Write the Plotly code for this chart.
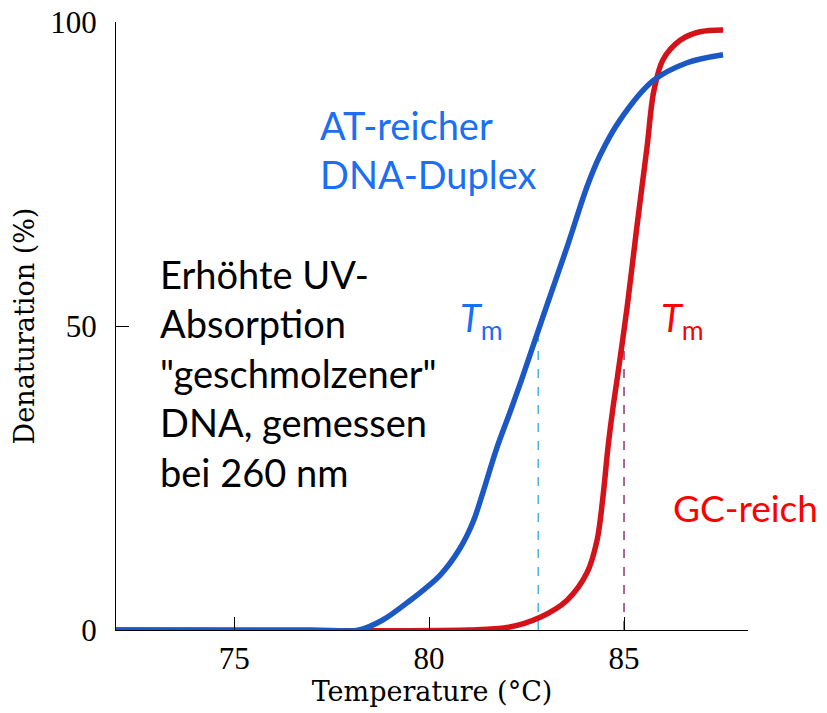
import plotly.graph_objects as go

# AT-rich duplex (blue): temperature (°C) and denaturation (%)
temp_at = [71.97, 77.0, 78.2, 78.8, 79.44, 80.28, 80.79, 81.13, 81.38, 81.74, 82.08, 82.38, 82.92, 83.54, 84.05, 84.38, 84.9, 85.74, 86.62, 87.54]
den_at = [0, 0, 0, 1.6, 4.5, 9.0, 13.4, 17.8, 22.6, 30.0, 35.9, 41.3, 51.5, 63.0, 72.9, 78.0, 83.9, 90.3, 93.3, 94.6]

# GC-rich (red)
temp_gc = [71.97, 81.0, 82.0, 82.85, 83.54, 84.05, 84.31, 84.46, 84.59, 84.72, 84.82, 85.08, 85.33, 85.59, 85.76, 86.0, 86.44, 86.95, 87.54]
den_gc = [0, 0, 0.4, 2.1, 4.9, 9.4, 14.8, 21.9, 30.1, 36.7, 41.1, 53.1, 66.3, 79.4, 88.5, 93.8, 97.0, 98.4, 98.7]

# melting temperatures and heights of their dashed markers
tm_at, tm_at_h = 82.8, 48
tm_gc, tm_gc_h = 85.0, 46

x_ticks = [75, 80, 85, 88.16]
x_tick_text = ["75", "80", "85", ""]
y_ticks = [0, 50, 100]

BLUE_LINE = "#1c58c4"
RED_LINE = "#d3121a"
BLUE_TXT = "#1a6ff5"
RED_TXT = "#ff0000"
SANS = "Lato"
SERIF = "DejaVu Serif"
TICK_SERIF = "Liberation Serif"

fig = go.Figure()

fig.add_trace(go.Scatter(x=[tm_at, tm_at], y=[0, tm_at_h], mode="lines",
                         line=dict(color="#4fb3d9", width=1.5, dash="dash"), showlegend=False))
fig.add_trace(go.Scatter(x=[tm_gc, tm_gc], y=[0, tm_gc_h], mode="lines",
                         line=dict(color="#8a3a6e", width=1.5, dash="dash"), showlegend=False))

fig.add_trace(go.Scatter(x=temp_gc, y=den_gc, mode="lines",
                         line=dict(color=RED_LINE, width=5.5, shape="spline", smoothing=0.9),
                         showlegend=False))
fig.add_trace(go.Scatter(x=temp_at, y=den_at, mode="lines",
                         line=dict(color=BLUE_LINE, width=5.5, shape="spline", smoothing=0.9),
                         showlegend=False))

fig.add_annotation(x=77.15, y=79.0, text="AT-reicher<br>DNA-Duplex", showarrow=False,
                   xanchor="left", yanchor="middle", align="left",
                   font=dict(family=SANS, size=38, color=BLUE_TXT))
fig.add_annotation(x=73.05, y=42.3,
                   text="Erhöhte UV-<br>Absorption<br>\"geschmolzener\"<br>DNA, gemessen<br>bei 260 nm",
                   showarrow=False, xanchor="left", yanchor="middle", align="left",
                   font=dict(family=SANS, size=38, color="black"))
fig.add_annotation(x=86.2, y=20.2, text="GC-reich", showarrow=False,
                   xanchor="left", yanchor="middle", align="left",
                   font=dict(family=SANS, size=37, color=RED_TXT))
fig.add_annotation(x=80.75, y=51.0, text="<i>T</i><sub>m</sub>", showarrow=False,
                   xanchor="left", yanchor="middle",
                   font=dict(family=SANS, size=38, color=BLUE_TXT))
fig.add_annotation(x=85.9, y=51.0, text="<i>T</i><sub>m</sub>", showarrow=False,
                   xanchor="left", yanchor="middle",
                   font=dict(family=SANS, size=38, color=RED_TXT))

fig.update_layout(
    width=827, height=713,
    margin=dict(l=116, r=79, t=22, b=83, autoexpand=False),
    paper_bgcolor="white", plot_bgcolor="white",
    font=dict(family=SERIF, color="black"),
)
fig.update_xaxes(range=[71.97, 88.18], tickvals=x_ticks, ticktext=x_tick_text,
                 ticks="inside", ticklen=13, tickwidth=1.3, tickcolor="black",
                 showline=True, linecolor="black", linewidth=1.3, showgrid=False, zeroline=False,
                 tickfont=dict(family=TICK_SERIF, size=31), ticklabelstandoff=1,
                 ticklabeloverflow="allow", automargin=False,
                 title=dict(text="Temperature (°C)", font=dict(family=SERIF, size=27), standoff=4))
fig.update_yaxes(range=[0, 100], tickvals=y_ticks,
                 ticks="inside", ticklen=13, tickwidth=1.3, tickcolor="black",
                 showline=True, linecolor="black", linewidth=1.3, showgrid=False, zeroline=False,
                 tickfont=dict(family=TICK_SERIF, size=31), ticklabelstandoff=12,
                 ticklabeloverflow="allow", automargin=False,
                 title=dict(text="Denaturation (%)", font=dict(family=SERIF, size=27), standoff=7))

fig.write_html("out.html", config={"displayModeBar": False},
               post_script="document.body.style.margin='0';document.body.style.overflow='hidden';")
